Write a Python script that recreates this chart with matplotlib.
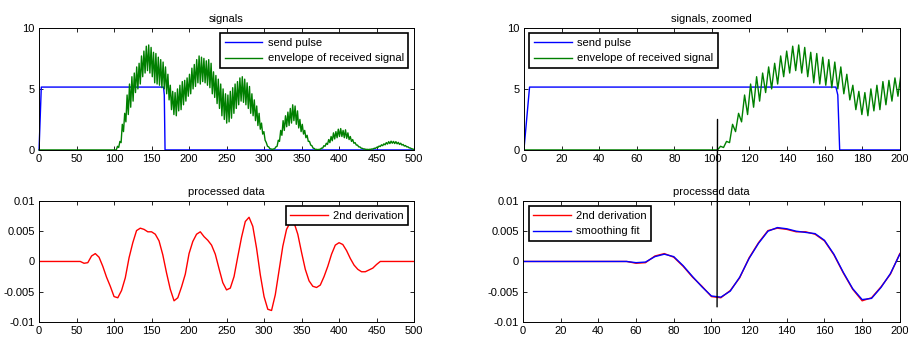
import numpy as np
import matplotlib
matplotlib.use("Agg")
import matplotlib.pyplot as plt
from matplotlib.patches import ConnectionPatch

plt.rcParams['font.family'] = ['Liberation Sans', 'DejaVu Sans']

# --- DATA ---
# send pulse (corner points)
pulse_x = [0, 3, 166, 167, 168, 500]
pulse_y = [0, 5.15, 5.15, 4.5, 0, 0]

# envelope of received signal: zero until echo start, then sampled every 1.6
echo_start = 103
echo_step = 1.6
envelope = [
    0.0, 0.3, 0.2, 0.7, 0.6, 2.1, 1.5, 3.0, 2.3, 4.5,
    2.9, 5.4, 3.5, 6.0, 4.0, 6.3, 4.7, 6.8, 5.0, 7.1,
    5.4, 7.7, 6.0, 8.1, 6.3, 8.5, 6.5, 8.6, 6.3, 8.4,
    6.0, 8.0, 5.5, 7.9, 5.4, 7.6, 5.3, 7.4, 5.1, 7.2,
    5.0, 6.8, 4.6, 6.2, 4.1, 5.3, 3.3, 4.8, 2.9, 4.7,
    2.8, 5.0, 3.2, 5.3, 3.3, 5.6, 3.7, 5.7, 4.0, 5.9,
    4.4, 6.2, 4.6, 6.7, 5.0, 7.0, 5.2, 7.4, 5.5, 7.7,
    5.4, 7.6, 5.6, 7.5, 5.5, 7.3, 5.3, 7.4, 5.1, 7.1,
    4.6, 6.4, 4.3, 6.1, 3.8, 5.8, 3.4, 5.4, 2.8, 5.0,
    2.5, 4.6, 2.2, 4.5, 2.3, 4.8, 2.6, 5.1, 3.0, 5.4,
    3.4, 5.6, 3.7, 5.9, 4.0, 6.0, 3.9, 5.8, 3.7, 5.5,
    3.4, 5.2, 3.0, 4.6, 2.8, 4.1, 2.4, 3.6, 2.0, 3.0,
    1.7, 2.2, 1.3, 1.5, 0.8, 0.6, 0.3, 0.25, 0.1, 0.08,
    0.05, 0.08, 0.1, 0.25, 0.3, 0.8, 0.7, 1.6, 1.2, 2.4,
    1.6, 2.8, 1.9, 3.1, 2.0, 3.4, 2.2, 3.7, 2.4, 3.6,
    2.1, 3.2, 1.8, 2.5, 1.5, 2.1, 1.3, 1.6, 1.0, 1.2,
    0.7, 0.7, 0.4, 0.35, 0.15, 0.12, 0.03, 0.05, 0.02, 0.05,
    0.05, 0.15, 0.15, 0.35, 0.3, 0.55, 0.45, 0.85, 0.6, 1.1,
    0.75, 1.4, 0.9, 1.5, 1.0, 1.7, 1.1, 1.75, 1.1, 1.6,
    1.0, 1.65, 0.95, 1.4, 0.85, 1.1, 0.7, 0.85, 0.55, 0.6,
    0.4, 0.4, 0.25, 0.25, 0.15, 0.13, 0.08, 0.08, 0.04, 0.05,
    0.03, 0.05, 0.05, 0.08, 0.08, 0.14, 0.13, 0.22, 0.2, 0.32,
    0.28, 0.42, 0.35, 0.5, 0.42, 0.6, 0.48, 0.68, 0.52, 0.72,
    0.55, 0.7, 0.52, 0.68, 0.5, 0.62, 0.45, 0.55, 0.4, 0.45,
    0.32, 0.36, 0.25, 0.26, 0.17, 0.16, 0.1, 0.08, 0.04,
]

# 2nd derivation, sampled every 5 from 0 to 500
deriv_step = 5
deriv2 = [
    0, 0, 0, 0, 0, 0, 0, 0, 0, 0, 0, 0,
    -0.0003, -0.0002, 0.0009, 0.0013, 0.0007, -0.0008, -0.0026, -0.0041,
    -0.0058, -0.0060, -0.0048, -0.0027, 0.0006, 0.0031, 0.0051, 0.0055,
    0.0053, 0.0049, 0.0049, 0.0045, 0.0034, 0.0011, -0.0019, -0.0046,
    -0.0065, -0.0060, -0.0042, -0.0021, 0.0013, 0.0033, 0.0045, 0.0049,
    0.0041, 0.0035, 0.0027, 0.0012, -0.0012, -0.0035, -0.0047, -0.0044,
    -0.0025, 0.0008, 0.0040, 0.0066, 0.0073, 0.0058, 0.0022, -0.0022,
    -0.0058, -0.0079, -0.0081, -0.0055, -0.0015, 0.0025, 0.0053, 0.0065,
    0.0064, 0.0045, 0.0015, -0.0013, -0.0032, -0.0041, -0.0043, -0.0039,
    -0.0025, -0.0008, 0.0012, 0.0027, 0.0031, 0.0028, 0.0018, 0.0005,
    -0.0006, -0.0013, -0.0017, -0.0017, -0.0014, -0.0011, -0.0005, 0,
    0, 0, 0, 0, 0, 0, 0, 0, 0,
]

# smoothing fit, sampled every 5 from 0 to 200
smooth_fit = [
    0, 0, 0, 0, 0, 0, 0, 0, 0, 0, 0, 0,
    -0.0002, -0.0001, 0.0008, 0.0012, 0.0008, -0.0007, -0.0025, -0.0042,
    -0.0057, -0.0059, -0.0049, -0.0026, 0.0005, 0.0030, 0.0050, 0.0056,
    0.0054, 0.0050, 0.0048, 0.0046, 0.0035, 0.0012, -0.0018, -0.0045,
    -0.0063, -0.0061, -0.0043, -0.0020, 0.0012,
]

# vertical marker at the detected echo
marker_x = 103
marker_top = 2.5
marker_bottom = -0.0075

sig_yticks = [0, 5, 10]
proc_yticks = [-0.01, -0.005, 0, 0.005, 0.01]
proc_ylabels = ['-0.01', '-0.005', '0', '0.005', '0.01']

env_x = np.concatenate([[0], echo_start + echo_step * np.arange(len(envelope))])
env_y = np.concatenate([[0], envelope])
deriv_x = deriv_step * np.arange(len(deriv2))
smooth_x = deriv_step * np.arange(len(smooth_fit))

# --- FIGURE ---
fs = 8
lw = 1.0
fig = plt.figure(figsize=(9.08, 3.4), dpi=100)
ax1 = fig.add_axes([0.043, 0.559, 0.413, 0.359])
ax2 = fig.add_axes([0.577, 0.559, 0.414, 0.359])
ax3 = fig.add_axes([0.043, 0.053, 0.413, 0.356])
ax4 = fig.add_axes([0.576, 0.053, 0.415, 0.356])


def style(ax, title):
    ax.set_title(title, fontsize=fs, pad=4)
    ax.tick_params(direction='in', top=True, right=True, length=3, width=0.6,
                   labelsize=fs, pad=3)
    for s in ax.spines.values():
        s.set_linewidth(0.7)


def legend(ax, loc):
    leg = ax.legend(loc=loc, fontsize=fs, fancybox=False, framealpha=1,
                    edgecolor='black', handlelength=3.4, borderaxespad=0.5,
                    labelspacing=0.5, borderpad=0.4, handletextpad=0.5)
    leg.get_frame().set_linewidth(1.2)


# top left: full signals
ax1.plot(pulse_x, pulse_y, color='blue', lw=lw, label='send pulse', clip_on=False)
ax1.plot(env_x, env_y, color='green', lw=lw, label='envelope of received signal',
         clip_on=False)
ax1.set_xlim(0, 500)
ax1.set_ylim(0, 10)
ax1.set_xticks(np.arange(0, 501, 50))
ax1.set_yticks(sig_yticks)
style(ax1, 'signals')
legend(ax1, 'upper right')

# top right: zoomed signals
ax2.plot(pulse_x, pulse_y, color='blue', lw=lw, label='send pulse')
ax2.plot(env_x, env_y, color='green', lw=lw, label='envelope of received signal')
ax2.set_xlim(0, 200)
ax2.set_ylim(0, 10)
ax2.set_xticks(np.arange(0, 201, 20))
ax2.set_yticks(sig_yticks)
style(ax2, 'signals, zoomed')
legend(ax2, 'upper left')

# bottom left: processed data
ax3.plot(deriv_x, deriv2, color='red', lw=lw, label='2nd derivation')
ax3.set_xlim(0, 500)
ax3.set_ylim(-0.01, 0.01)
ax3.set_xticks(np.arange(0, 501, 50))
ax3.set_yticks(proc_yticks)
ax3.set_yticklabels(proc_ylabels)
style(ax3, 'processed data')
legend(ax3, 'upper right')

# bottom right: processed data zoomed with fit
ax4.plot(deriv_x, deriv2, color='red', lw=lw, label='2nd derivation')
ax4.plot(smooth_x, smooth_fit, color='blue', lw=lw, label='smoothing fit')
ax4.set_xlim(0, 200)
ax4.set_ylim(-0.01, 0.01)
ax4.set_xticks(np.arange(0, 201, 20))
ax4.set_yticks(proc_yticks)
ax4.set_yticklabels(proc_ylabels)
style(ax4, 'processed data')
legend(ax4, 'upper left')

con = ConnectionPatch(xyA=(marker_x, marker_top), coordsA=ax2.transData,
                      xyB=(marker_x, marker_bottom), coordsB=ax4.transData,
                      color='black', lw=1.0, zorder=10)
fig.add_artist(con)

fig.savefig('out.png', dpi=100)
